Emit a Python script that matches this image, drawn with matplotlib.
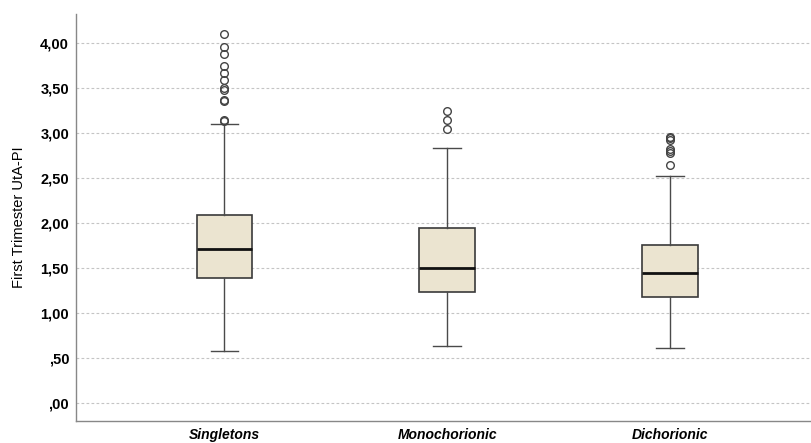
import matplotlib
matplotlib.use("Agg")
import matplotlib.pyplot as plt
from matplotlib.ticker import FixedLocator

plt.rcParams['font.family'] = ['Liberation Sans', 'DejaVu Sans']

categories = ["Singletons", "Monochorionic", "Dichorionic"]
whisker_low = [0.58, 0.63, 0.61]
q1 = [1.39, 1.23, 1.18]
median = [1.71, 1.50, 1.45]
q3 = [2.09, 1.95, 1.76]
whisker_high = [3.10, 2.83, 2.52]
outliers = [
    [3.13, 3.14, 3.36, 3.37, 3.48, 3.50, 3.59, 3.67, 3.75, 3.88, 3.96, 4.10],
    [3.05, 3.14, 3.24],
    [2.64, 2.78, 2.80, 2.82, 2.92, 2.94, 2.96],
]
yticks = [0.0, 0.5, 1.0, 1.5, 2.0, 2.5, 3.0, 3.5, 4.0]
ytick_labels = [",00", ",50", "1,00", "1,50", "2,00", "2,50", "3,00", "3,50", "4,00"]

stats = []
for i, c in enumerate(categories):
    stats.append(dict(label=c, whislo=whisker_low[i], q1=q1[i], med=median[i],
                      q3=q3[i], whishi=whisker_high[i], fliers=outliers[i]))

fig = plt.figure(figsize=(8.11, 4.43), dpi=100)
ax = fig.add_axes([76/811, 1-421/443, 1-76/811, (421-14)/443])

ax.set_axisbelow(True)
for v in yticks:
    ax.axhline(v, color='#c4c4c4', lw=0.8, ls=(0, (2.5, 2)), zorder=0)

ax.bxp(stats, positions=[1, 2, 3], widths=0.25, patch_artist=True,
       boxprops=dict(facecolor='#ebe4d0', edgecolor='#3a3a3a', lw=1.2),
       medianprops=dict(color='#111111', lw=2.0),
       whiskerprops=dict(color='#4a4a4a', lw=1.0),
       capprops=dict(color='#4a4a4a', lw=1.0),
       capwidths=0.125,
       flierprops=dict(marker='o', markersize=5.5, markerfacecolor='none',
                       markeredgecolor='#444444', markeredgewidth=1.0))

ax.set_xlim(1 - (224.5-76)/222.75, 3 + (811-670)/222.75)
ax.set_ylim((403-421)/90, (403-14)/90)
ax.yaxis.set_major_locator(FixedLocator(yticks))
ax.set_yticklabels(ytick_labels, fontsize=10.5, fontweight='bold')
ax.set_xticks([1, 2, 3])
ax.set_xticklabels(categories, fontsize=10, fontweight='bold', fontstyle='italic')
ax.tick_params(axis='both', length=0)
ax.tick_params(axis='y', pad=5)
ax.tick_params(axis='x', pad=9)
for lbl in ax.get_xticklabels():
    lbl.set_verticalalignment('bottom')
ax.xaxis.set_tick_params(pad=0)
import matplotlib.transforms as mtransforms
offset = mtransforms.ScaledTranslation(0, -21/100, fig.dpi_scale_trans)
for lbl in ax.get_xticklabels():
    lbl.set_transform(lbl.get_transform() + offset)
ax.set_ylabel("First Trimester UtA-PI", fontsize=10.5, labelpad=10)

for s in ['top', 'right']:
    ax.spines[s].set_visible(False)
for s in ['left', 'bottom']:
    ax.spines[s].set_color('#888888')
    ax.spines[s].set_linewidth(1.0)

fig.savefig("out.png", dpi=100)
